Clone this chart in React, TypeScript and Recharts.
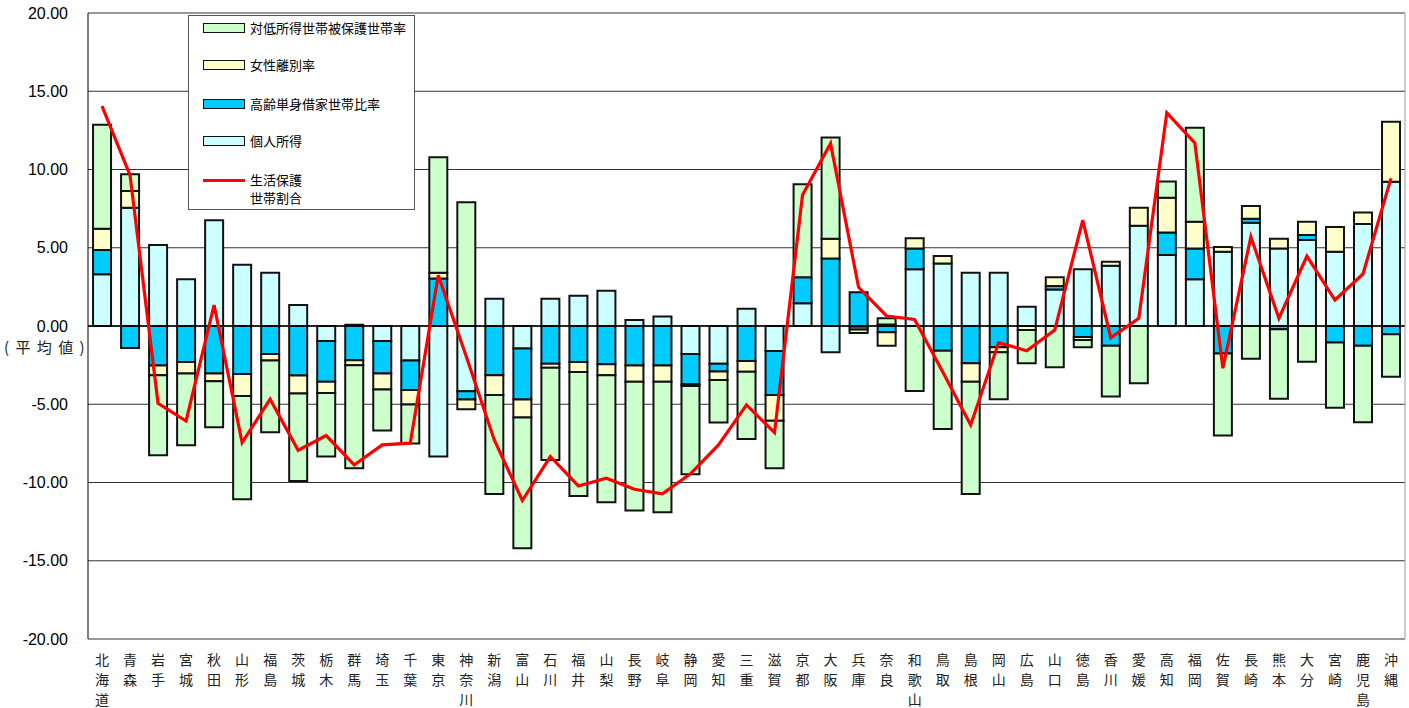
import React from "react";
import {
  ComposedChart,
  Bar,
  Line,
  XAxis,
  YAxis,
  CartesianGrid,
  ReferenceLine,
  Legend,
} from "recharts";

// 都道府県（x軸）
const PREFS = [
  "北海道", "青森", "岩手", "宮城", "秋田", "山形", "福島", "茨城", "栃木", "群馬",
  "埼玉", "千葉", "東京", "神奈川", "新潟", "富山", "石川", "福井", "山梨", "長野",
  "岐阜", "静岡", "愛知", "三重", "滋賀", "京都", "大阪", "兵庫", "奈良", "和歌山",
  "鳥取", "島根", "岡山", "広島", "山口", "徳島", "香川", "愛媛", "高知", "福岡",
  "佐賀", "長崎", "熊本", "大分", "宮崎", "鹿児島", "沖縄",
];

// 個人所得
const INCOME = [
  3.3, 7.55, 5.17, 2.98, 6.75, 3.92, 3.41, 1.34, -0.96, 0.08,
  -0.96, -2.21, -8.34, -4.17, 1.74, -1.43, 1.74, 1.94, 2.26, 0.38,
  0.6, -1.79, -2.41, 1.1, -1.6, 1.45, -1.68, -0.05, 0.1, 3.62,
  4.0, 3.41, 3.41, 1.23, 2.34, 3.62, 3.85, 6.41, 4.53, 2.98,
  4.75, 6.6, 4.96, 5.49, 4.75, 6.51, 9.21,
];

// 高齢単身借家世帯比率
const ELDERLY = [
  1.55, -1.4, -2.53, -2.3, -3.04, -3.07, -1.79, -3.17, -2.6, -2.19,
  -2.08, -1.88, 3.04, -0.53, -3.15, -3.27, -2.41, -2.3, -2.45, -2.53,
  -2.53, -1.94, -0.49, -2.23, -2.81, 1.66, 4.32, 2.15, -0.4, 1.34,
  -1.58, -2.38, -1.36, 0, 0.21, -0.7, -1.26, 0, 1.45, 1.98,
  -1.75, 0.25, -0.2, 0.32, -1.06, -1.26, -0.53,
];

// 女性離別率
const FEMALE = [
  1.36, 1.07, -0.62, -0.74, -0.49, -1.4, -0.42, -1.15, -0.72, -0.32,
  -1.02, -0.93, 0.36, -0.62, -1.26, -1.15, -0.25, -0.64, -0.7, -1.03,
  -1.03, -0.1, -0.55, -0.69, -1.64, 0, 1.26, -0.18, -0.86, 0.64,
  0.47, -1.18, -0.32, -0.25, 0.56, -0.2, 0.25, 1.14, 2.21, 1.7,
  0.29, 0.81, 0.62, 0.85, 1.57, 0.75, 3.84,
];

// 対低所得世帯被保護世帯率
const LOWINC = [
  6.65, 1.07, -5.11, -4.58, -2.94, -6.6, -4.58, -5.58, -4.06, -6.58,
  -2.62, -2.49, 7.39, 7.9, -6.32, -8.35, -5.9, -7.92, -8.11, -8.23,
  -8.34, -5.64, -2.72, -4.3, -3.04, 5.94, 6.47, -0.22, 0.39, -4.15,
  -5.0, -7.17, -3.0, -2.13, -2.64, -0.45, -3.25, -3.66, 1.05, 6.0,
  -5.25, -2.09, -4.45, -2.28, -4.16, -4.89, -2.71,
];

// 生活保護世帯割合
const WELFARE = [
  14.05, 9.64, -4.94, -6.07, 1.34, -7.45, -4.68, -7.94, -7.0, -8.88,
  -7.6, -7.49, 3.24, -1.95, -7.28, -11.15, -8.34, -10.22, -9.73, -10.43,
  -10.73, -9.45, -7.6, -5.04, -6.81, 8.37, 11.66, 2.47, 0.64, 0.42,
  -2.92, -6.32, -1.06, -1.58, -0.26, 6.77, -0.75, 0.49, 13.62, 11.7,
  -2.7, 5.7, 0.49, 4.47, 1.66, 3.32, 9.43,
];

const Y_TICKS = [-20, -15, -10, -5, 0, 5, 10, 15, 20];

const COLORS = {
  lowinc: "#CCFFCC",
  female: "#FFFFCC",
  elderly: "#00CCFF",
  income: "#CCFFFF",
  welfare: "#FF0000",
};

const LEGEND_ROWS = [
  { label: "対低所得世帯被保護世帯率", color: COLORS.lowinc, top: 12 },
  { label: "女性離別率", color: COLORS.female, top: 49 },
  { label: "高齢単身借家世帯比率", color: COLORS.elderly, top: 88 },
  { label: "個人所得", color: COLORS.income, top: 125 },
];

const JP_FONT = "'Noto Sans CJK JP', 'Noto Sans', sans-serif";
const NUM_FONT = "'Liberation Sans', Arial, sans-serif";

const data = PREFS.map((name, i) => ({
  name,
  income: INCOME[i],
  elderly: ELDERLY[i],
  female: FEMALE[i],
  lowinc: LOWINC[i],
  welfare: WELFARE[i],
}));

// 縦書きの都道府県名
function PrefTick({ x, y, payload }: any) {
  const chars = Array.from(String(payload.value));
  return (
    <g transform={`translate(${x},${y})`}>
      <text textAnchor="middle" fontSize={14} fill="#222" fontFamily={JP_FONT}>
        {chars.map((c, i) => (
          <tspan key={i} x={0} y={26 + i * 20}>
            {c}
          </tspan>
        ))}
      </text>
    </g>
  );
}

function LegendBox() {
  return (
    <div
      style={{
        width: 227,
        height: 195,
        boxSizing: "border-box",
        border: "1px solid #555",
        background: "#fff",
        position: "relative",
        fontFamily: JP_FONT,
        fontSize: 13,
        color: "#000",
      }}
    >
      {LEGEND_ROWS.map((r) => (
        <div key={r.label}>
          <div
            style={{
              position: "absolute",
              left: 14,
              top: r.top - 5,
              width: 42,
              height: 10,
              boxSizing: "border-box",
              border: "1.5px solid #111",
              background: r.color,
            }}
          />
          <div style={{ position: "absolute", left: 61, top: r.top - 9, lineHeight: "18px" }}>
            {r.label}
          </div>
        </div>
      ))}
      <div
        style={{
          position: "absolute",
          left: 14,
          top: 163,
          width: 42,
          height: 3,
          background: COLORS.welfare,
        }}
      />
      <div style={{ position: "absolute", left: 61, top: 155, lineHeight: "18px" }}>
        生活保護
        <br />
        世帯割合
      </div>
    </div>
  );
}

export default function App() {
  return (
    <div style={{ position: "absolute", left: 0, top: 0, width: 1409, height: 708, background: "#fff" }}>
      <ComposedChart
        width={1409}
        height={708}
        data={data}
        stackOffset="sign"
        barCategoryGap="18%"
        margin={{ top: 13, right: 0, bottom: 0, left: 0 }}
      >
        <CartesianGrid vertical={false} stroke="#333" />
        <XAxis
          dataKey="name"
          interval={0}
          height={69}
          tickLine={false}
          tickSize={0}
          tickMargin={0}
          axisLine={{ stroke: "#999" }}
          tick={<PrefTick />}
        />
        <YAxis
          domain={[-20, 20]}
          ticks={Y_TICKS}
          width={88}
          tickLine={false}
          tickSize={0}
          tickMargin={20}
          axisLine={{ stroke: "#000" }}
          tick={{ fontSize: 16, fill: "#000", fontFamily: NUM_FONT }}
          tickFormatter={(v: number) => v.toFixed(2)}
        />
        <YAxis
          yAxisId="right"
          orientation="right"
          domain={[-20, 20]}
          width={4}
          tick={false}
          tickLine={false}
          axisLine={{ stroke: "#999" }}
        />
        <Legend
          layout="vertical"
          align="center"
          verticalAlign="middle"
          wrapperStyle={{ left: 188, top: 15, width: 227, height: 195 }}
          content={() => <LegendBox />}
        />
        <Bar dataKey="income" stackId="s" fill={COLORS.income} stroke="#111" strokeWidth={2} isAnimationActive={false} />
        <Bar dataKey="elderly" stackId="s" fill={COLORS.elderly} stroke="#111" strokeWidth={2} isAnimationActive={false} />
        <Bar dataKey="female" stackId="s" fill={COLORS.female} stroke="#111" strokeWidth={2} isAnimationActive={false} />
        <Bar dataKey="lowinc" stackId="s" fill={COLORS.lowinc} stroke="#111" strokeWidth={2} isAnimationActive={false} />
        <ReferenceLine y={0} stroke="#000" strokeWidth={1.5} />
        <Line
          type="linear"
          dataKey="welfare"
          stroke={COLORS.welfare}
          strokeWidth={3.2}
          dot={false}
          activeDot={false}
          isAnimationActive={false}
        />
      </ComposedChart>
      <div
        style={{
          position: "absolute",
          left: 4,
          top: 337,
          fontFamily: JP_FONT,
          fontSize: 15,
          letterSpacing: 1.5,
          whiteSpace: "pre",
          color: "#222",
          lineHeight: "20px",
        }}
      >
        ( 平 均 値 )
      </div>
    </div>
  );
}
